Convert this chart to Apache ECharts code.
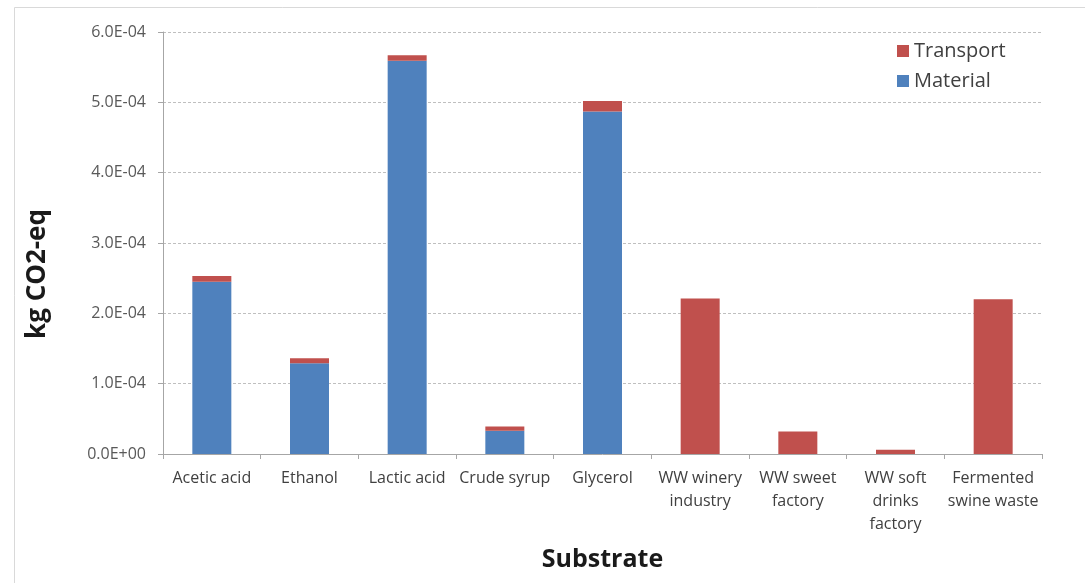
<!DOCTYPE html>
<html>
<head>
<meta charset="utf-8">
<script src="https://cdn.jsdelivr.net/npm/echarts@6/dist/echarts.min.js"></script>
<style>
html,body{margin:0;padding:0;background:#fff;}
#chart{width:1085px;height:583px;}
</style>
</head>
<body>
<div id="chart"></div>
<script>
var categories = ['Acetic acid', 'Ethanol', 'Lactic acid', 'Crude syrup', 'Glycerol',
  'WW winery\nindustry', 'WW sweet\nfactory', 'WW soft\ndrinks\nfactory', 'Fermented\nswine waste'];
var materialValues = [2.45e-4, 1.29e-4, 5.59e-4, 0.33e-4, 4.87e-4, 0, 0, 0, 0];
var transportValues = [0.08e-4, 0.07e-4, 0.08e-4, 0.06e-4, 0.15e-4, 2.21e-4, 0.32e-4, 0.06e-4, 2.20e-4];
var yTicks = { min: 0, max: 6e-4, interval: 1e-4 };
var yTitle = 'kg CO2-eq';
var xTitle = 'Substrate';

function sci(v) {
  if (Math.abs(v) < 1e-12) return '0.0E+00';
  var s = v.toExponential(1).toUpperCase();
  var parts = s.split('E');
  var e = parseInt(parts[1], 10);
  var sign = e < 0 ? '-' : '+';
  var ea = Math.abs(e);
  return parts[0] + 'E' + sign + (ea < 10 ? '0' + ea : '' + ea);
}

var chart = echarts.init(document.getElementById('chart'), null, { renderer: 'canvas' });
chart.setOption({
  animation: false,
  backgroundColor: '#ffffff',
  textStyle: { fontFamily: 'Open Sans' },
  graphic: [{
    type: 'rect', left: 12, top: 5, z: -1,
    shape: { width: 1071, height: 600 },
    style: { fill: 'none', stroke: '#d9d9d9', lineWidth: 1 }
  }, {
    type: 'text', x: 38, y: 274, rotation: Math.PI / 2,
    style: {
      text: yTitle, fill: '#1a1a1a', font: 'bold 26px "Open Sans"',
      align: 'center', verticalAlign: 'middle'
    }
  }],
  grid: { left: 163, right: 43, top: 32, bottom: 129 },
  legend: {
    data: ['Transport', 'Material'],
    orient: 'vertical',
    left: 892, top: 35,
    icon: 'rect', itemWidth: 12, itemHeight: 12, itemGap: 8,
    textStyle: { fontSize: 20, color: '#404040', fontFamily: 'Open Sans', lineHeight: 22 }
  },
  xAxis: {
    type: 'category',
    data: categories,
    name: xTitle,
    nameLocation: 'middle',
    nameGap: 93,
    nameTextStyle: { fontSize: 25, fontWeight: 'bold', color: '#1a1a1a', fontFamily: 'Open Sans' },
    axisLine: { lineStyle: { color: '#a6a6a6' } },
    axisTick: { show: true, alignWithLabel: false, length: 5, lineStyle: { color: '#a6a6a6' } },
    axisLabel: { interval: 0, fontSize: 16, color: '#404040', lineHeight: 23, margin: 13, fontFamily: 'Open Sans' }
  },
  yAxis: {
    type: 'value',
    min: yTicks.min, max: yTicks.max, interval: yTicks.interval,
    axisLine: { show: true, lineStyle: { color: '#a6a6a6' } },
    axisTick: { show: true, length: 5, lineStyle: { color: '#a6a6a6' } },
    axisLabel: { formatter: sci, fontSize: 16, color: '#595959', margin: 17, fontFamily: 'Open Sans' },
    splitLine: { show: true, lineStyle: { color: '#bfbfbf', type: [3, 2], width: 1 } }
  },
  series: [
    {
      name: 'Material', type: 'bar', stack: 'total',
      data: materialValues, barWidth: 39,
      itemStyle: { color: '#4F81BD' }
    },
    {
      name: 'Transport', type: 'bar', stack: 'total',
      data: transportValues, barWidth: 39,
      itemStyle: { color: '#C0504D' }
    }
  ]
});
</script>
</body>
</html>
